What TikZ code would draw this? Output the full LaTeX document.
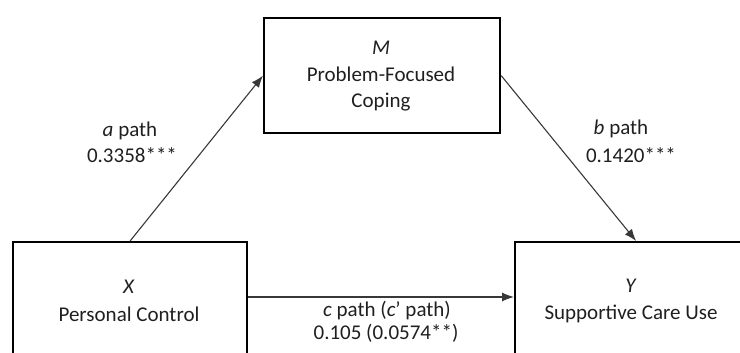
\documentclass[tikz,border=0pt]{standalone}
\usepackage{fontspec}
\setmainfont{Carlito}
\usetikzlibrary{arrows.meta,calc}
\begin{document}
\begin{tikzpicture}[x=1pt,y=-1pt,
  box/.style={draw=black,line width=2.2pt,minimum width=#1,inner sep=0pt,anchor=north west},
  txt/.style={anchor=base,inner sep=0pt,text=black!88,font=\fontsize{21}{27}\selectfont},
  arr/.style={draw=black!78,line width=1.1pt,-{Latex[length=12pt,width=9pt]}}]
\useasboundingbox (0,0) rectangle (740,353);
\clip (0,0) rectangle (740,353);
% boxes
\node[box=234pt,minimum height=140pt] (xbox) at (12,241) {};
\node[box=236pt,minimum height=115pt] (mbox) at (263,17) {};
\node[box=242pt,minimum height=140pt] (ybox) at (514,241) {};
% box texts
\node[txt] (xt1) at (129,293) {\textit{X}};
\node[txt] (xt2) at (129,321) {Personal Control};
\node[txt] (mt1) at (381,55) {\textit{M}};
\node[txt] (mt2) at (381,82) {Problem-Focused};
\node[txt] (mt3) at (381,108) {Coping};
\node[txt] (yt1) at (631,292) {\textit{Y}};
\node[txt] (yt2) at (631,319) {Supportive Care Use};
% connectors
\coordinate (cy) at (0,297);
\draw[arr] (xbox.north) -- (mbox.west);
\draw[arr] (mbox.east) -- (ybox.north);
\draw[arr] (xbox.east |- cy) -- (ybox.west |- cy);
% path labels
\node[txt] (al1) at (130,136) {\textit{a} path};
\node[txt] (al2) at (132,163) {0.3358***};
\node[txt] (bl1) at (621,135) {\textit{b} path};
\node[txt] (bl2) at (631,163) {0.1420***};
\node[txt] (cl1) at (387,316) {\textit{c} path (\textit{c}’ path)};
\node[txt] (cl2) at (386,339) {0.105 (0.0574**)};
\end{tikzpicture}
\end{document}
